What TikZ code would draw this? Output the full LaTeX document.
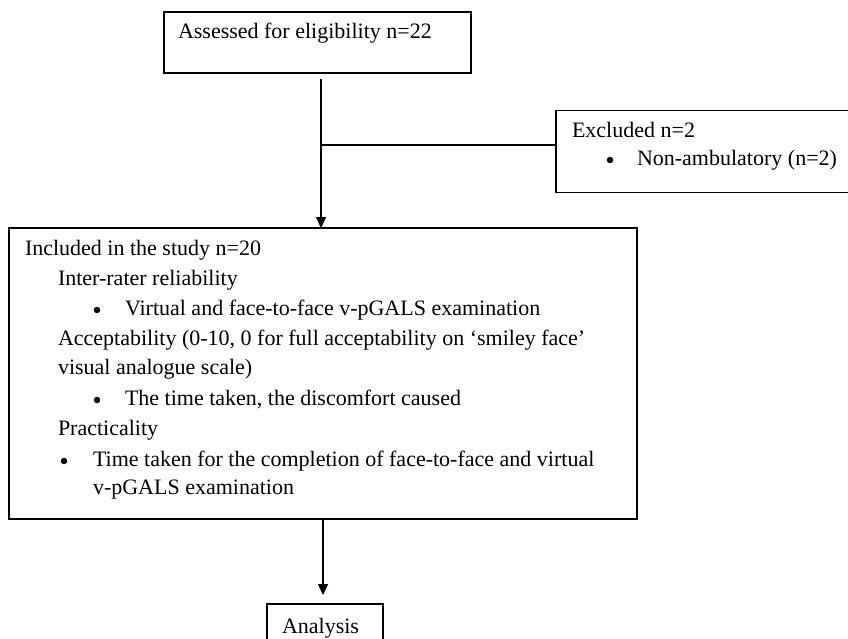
\documentclass[tikz,border=0pt]{standalone}
\usepackage{fontspec}
\setmainfont{Liberation Serif}
\usetikzlibrary{arrows.meta}
\begin{document}
\begin{tikzpicture}[x=1pt,y=-1pt,
  box/.style={draw, line width=1.5pt, inner sep=0pt, outer sep=0pt, fill=white},
  txt/.style={anchor=base west, inner sep=0pt, outer sep=0pt, font=\fontsize{22}{26}\selectfont},
  bul/.style={circle, fill=black, inner sep=0pt, outer sep=0pt, minimum size=6.5pt},
  conn/.style={line width=1.5pt},
  arr/.style={conn, -{Triangle[length=11pt,width=10pt]}}]
\useasboundingbox (0,0) rectangle (848,638);
% boxes
\node[box, minimum width=307pt, minimum height=61pt] (assess) at (317.5,42.5) {};
\node[box, minimum width=296pt, minimum height=82pt] (excl) at (704,151.5) {};
\node[box, minimum width=628pt, minimum height=291pt] (incl) at (323,373.5) {};
\node[box, minimum width=116pt, minimum height=50pt] (anal) at (325,629) {};
% texts
\node[txt] (t1) at (178,38) {Assessed for eligibility n=22};
\node[txt] (e1) at (572,137) {Excluded n=2};
\node[bul] (eb) at (610,160) {};
\node[txt] (e2) at (637,165) {Non-ambulatory (n=2)};
\node[txt] (i1) at (25,255) {Included in the study n=20};
\node[txt] (i2) at (58,285) {Inter-rater reliability};
\node[bul] (ib1) at (97,310) {};
\node[txt] (i3) at (125,315) {Virtual and face-to-face v-pGALS examination};
\node[txt] (i4) at (58,345) {Acceptability (0-10, 0 for full acceptability on ‘smiley face’};
\node[txt] (i5) at (58,374) {visual analogue scale)};
\node[bul] (ib2) at (97,400) {};
\node[txt] (i6) at (125,405) {The time taken, the discomfort caused};
\node[txt] (i7) at (58,435) {Practicality};
\node[bul] (ib3) at (64,461) {};
\node[txt] (i8) at (93,466) {Time taken for the completion of face-to-face and virtual};
\node[txt] (i9) at (93,494) {v-pGALS examination};
\node[txt] (a1t) at (282,633) {Analysis};
% connectors
\coordinate (s1) at (321,79);
\coordinate (j1) at (321,145);
\coordinate (s2) at (323,520);
\draw[arr] (s1) -- (s1 |- incl.north);
\draw[conn] (j1) -- (j1 -| excl.west);
\draw[arr, shorten >=9pt] (s2) -- (s2 |- anal.north);
\end{tikzpicture}
\end{document}
